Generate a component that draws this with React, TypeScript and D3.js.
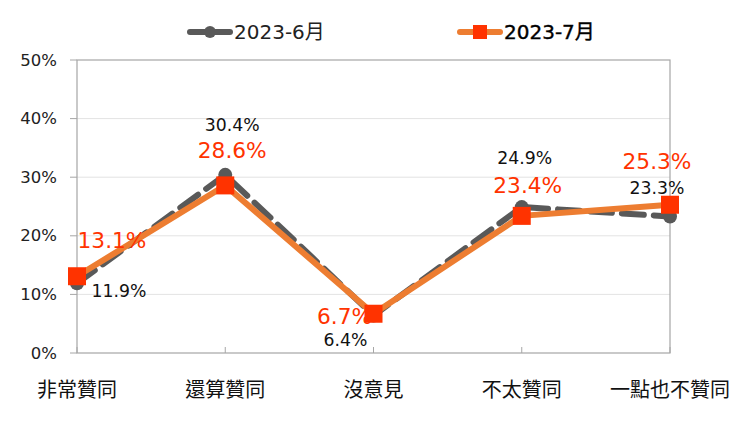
import React from "react";
import * as d3 from "d3";

const categories = ["非常贊同", "還算贊同", "沒意見", "不太贊同", "一點也不贊同"];
const seriesNames = ["2023-6月", "2023-7月"];
const june = [0.119, 0.304, 0.064, 0.249, 0.233];
const july = [0.131, 0.286, 0.067, 0.234, 0.253];
const yTicks = [0, 0.1, 0.2, 0.3, 0.4, 0.5];

// label offsets from each point (layout only)
const juneLabelOffset: [number, number][] = [
  [42, 8],
  [7, -50],
  [-28, 25],
  [3, -49],
  [-13, -28],
];
const julyLabelOffset: [number, number][] = [
  [35, -36],
  [7, -35],
  [-29, 3],
  [6, -30],
  [-13, -43],
];

const width = 743;
const height = 434;
const left = 77;
const right = 670;
const top = 60;
const bottom = 353;
const numFont = "'DejaVu Sans', 'Noto Sans CJK TC', sans-serif";
const cjkFont = "'Noto Sans CJK TC', sans-serif";
const gray = "#595959";
const orange = "#ED7D31";
const red = "#FF3300";

export default function App() {
  const x = d3.scalePoint<string>().domain(categories).range([left, right]);
  const y = d3.scaleLinear().domain([0, 0.5]).range([bottom, top]);
  const fmt = d3.format(".1%");

  const line = d3
    .line<number>()
    .x((_, i) => x(categories[i])!)
    .y((d) => y(d));

  return (
    <svg
      width={width}
      height={height}
      style={{ position: "absolute", left: 0, top: 0 }}
      fontFamily={numFont}
    >
      <rect width={width} height={height} fill="#fff" />
      {/* grid */}
      {yTicks.map((t) => (
        <g key={t}>
          {t > 0 && t < 0.5 && (
            <line
              x1={left}
              x2={right}
              y1={y(t)}
              y2={y(t)}
              stroke="#e3e3e3"
              strokeWidth={1}
            />
          )}
          <line x1={left - 7} x2={left} y1={y(t)} y2={y(t)} stroke="#a6a6a6" />
          <text
            x={left - 20}
            y={y(t)}
            textAnchor="end"
            dominantBaseline="central"
            fontSize={16.5}
            fill="#222"
          >
            {d3.format(".0%")(t)}
          </text>
        </g>
      ))}
      <rect
        x={left}
        y={top}
        width={right - left}
        height={bottom - top}
        fill="none"
        stroke="#a6a6a6"
        strokeWidth={1.2}
      />
      {categories.map((c) => (
        <g key={c}>
          <line x1={x(c)} x2={x(c)} y1={bottom - 6} y2={bottom} stroke="#a6a6a6" />
          <text
            x={x(c)}
            y={388}
            textAnchor="middle"
            dominantBaseline="central"
            fontSize={20}
            fontFamily={cjkFont}
            fill="#111"
          >
            {c}
          </text>
        </g>
      ))}

      {/* June series */}
      <path
        d={line(june)!}
        fill="none"
        stroke={gray}
        strokeWidth={6}
        strokeDasharray="22 10"
        strokeLinecap="round"
      />
      {june.map((v, i) => (
        <circle key={i} cx={x(categories[i])} cy={y(v)} r={7} fill={gray} />
      ))}

      {/* July series */}
      <path d={line(july)!} fill="none" stroke={orange} strokeWidth={6} />
      {july.map((v, i) => (
        <rect
          key={i}
          x={x(categories[i])! - 9}
          y={y(v) - 9}
          width={18}
          height={18}
          fill={red}
        />
      ))}

      {/* labels */}
      {june.map((v, i) => (
        <text
          key={"j" + i}
          x={x(categories[i])! + juneLabelOffset[i][0]}
          y={y(v) + juneLabelOffset[i][1]}
          textAnchor="middle"
          dominantBaseline="central"
          fontSize={17.3}
          fill="#111"
        >
          {fmt(v)}
        </text>
      ))}
      {july.map((v, i) => (
        <text
          key={"k" + i}
          x={x(categories[i])! + julyLabelOffset[i][0]}
          y={y(v) + julyLabelOffset[i][1]}
          textAnchor="middle"
          dominantBaseline="central"
          fontSize={21.7}
          fill={red}
        >
          {fmt(v)}
        </text>
      ))}

      {/* legend */}
      <g>
        <line x1={190} x2={230} y1={32} y2={32} stroke={gray} strokeWidth={6} strokeLinecap="round" />
        <circle cx={210} cy={32} r={6} fill={gray} />
        <text x={234} y={32} dominantBaseline="central" fontSize={20} fill="#222">
          {seriesNames[0]}
        </text>
        <line x1={460} x2={500} y1={32} y2={32} stroke={orange} strokeWidth={6} strokeLinecap="round" />
        <rect x={473} y={25} width={14} height={14} fill={red} />
        <text
          x={504}
          y={32}
          dominantBaseline="central"
          fontSize={20}
          fill="#000"
          stroke="#000"
          strokeWidth={0.4}
        >
          {seriesNames[1]}
        </text>
      </g>
    </svg>
  );
}
